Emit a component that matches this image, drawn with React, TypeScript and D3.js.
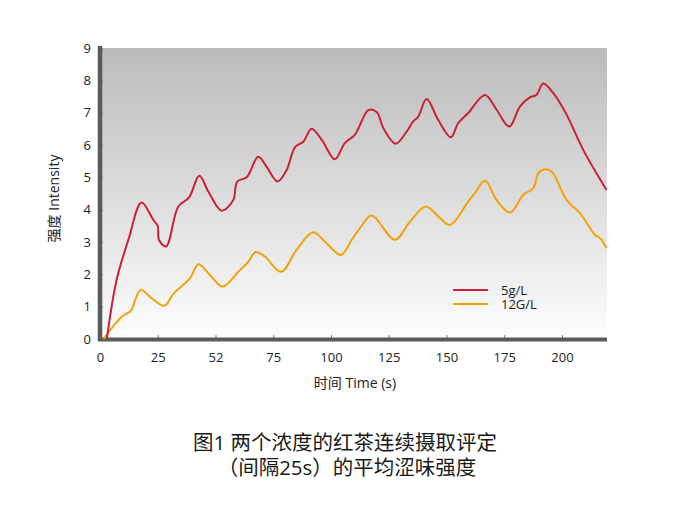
import { useEffect, useRef } from 'react'
import * as d3 from 'd3'

// time (s) / intensity readings for each concentration
const redTime = [3, 7.2, 12.3, 18, 23.1, 25, 25.5, 28.6, 33.9, 38.5, 43, 46.9, 52.7, 57.7, 59.4, 63.5, 68.5, 72.1, 76.9, 80.8, 84.4, 88, 91.6, 96, 101.7, 106, 110.4, 116.2, 119.8, 122.7, 128, 132.8, 135.6, 137.8, 141.4, 146.4, 151.9, 155.1, 159.4, 166.7, 171.7, 177.2, 181.8, 186.1, 189, 191.9, 196.2, 202, 209.2, 219.3]
const redValue = [0.02, 1.83, 3.07, 4.22, 3.68, 3.5, 3.07, 2.86, 4.1, 4.37, 5.05, 4.56, 3.97, 4.3, 4.87, 5.0, 5.64, 5.33, 4.87, 5.23, 5.93, 6.1, 6.5, 6.16, 5.56, 6.06, 6.32, 7.08, 7.02, 6.52, 6.04, 6.42, 6.73, 6.88, 7.42, 6.78, 6.24, 6.68, 6.99, 7.55, 7.09, 6.57, 7.19, 7.47, 7.55, 7.9, 7.61, 6.94, 5.85, 4.61]

const orangeTime = [1.5, 9.4, 13.4, 15.2, 17.6, 22.4, 27.8, 31.7, 39, 42.6, 47.6, 53.1, 59.9, 64.2, 67.4, 71.4, 78.4, 85.1, 92.3, 97.4, 104.3, 109, 112.6, 117.6, 127.7, 134.2, 141, 146.5, 151.5, 159.4, 162.3, 166.7, 171.7, 177.5, 183.3, 187.6, 189.8, 192.6, 195.5, 202, 207.8, 214.3, 216.5, 219.3]
const orangeValue = [0.0, 0.69, 0.88, 1.2, 1.52, 1.26, 1.03, 1.39, 1.88, 2.31, 1.98, 1.62, 2.08, 2.39, 2.69, 2.55, 2.08, 2.76, 3.3, 3.01, 2.6, 3.07, 3.43, 3.82, 3.07, 3.63, 4.1, 3.79, 3.53, 4.25, 4.51, 4.9, 4.3, 3.91, 4.46, 4.67, 5.13, 5.25, 5.18, 4.3, 3.89, 3.22, 3.12, 2.81]

const xTickValues = [0, 25, 50, 75, 100, 125, 150, 175, 200]
const xTickLabels = ['0', '25', '52', '75', '100', '125', '150', '175', '200']
const yTickValues = [0, 1, 2, 3, 4, 5, 6, 7, 8, 9]

const seriesNames = ['5g/L', '12G/L']
const seriesColors = ['#cc1f3a', '#f5a10a']

const FONT = '"Open Sans", "Noto Sans CJK SC", sans-serif'

export default function App() {
  const svgRef = useRef<SVGSVGElement>(null)

  useEffect(() => {
    if (!svgRef.current) return
    const svg = d3.select(svgRef.current)
    svg.selectAll('*').remove()

    const left = 100
    const right = 607
    const top = 48
    const bottom = 339

    const x = d3.scaleLinear().domain([0, 219.5]).range([left, right])
    const y = d3.scaleLinear().domain([0, 9]).range([bottom, top])

    const defs = svg.append('defs')
    const grad = defs
      .append('linearGradient')
      .attr('id', 'bg-grad')
      .attr('x1', '0%')
      .attr('y1', '0%')
      .attr('x2', '0%')
      .attr('y2', '100%')
    grad.append('stop').attr('offset', '0%').attr('stop-color', '#bbbbbb')
    grad.append('stop').attr('offset', '100%').attr('stop-color', '#fdfdfd')

    svg
      .append('rect')
      .attr('x', left)
      .attr('y', top)
      .attr('width', right - left)
      .attr('height', bottom - top)
      .attr('fill', 'url(#bg-grad)')

    // ticks (inward, small)
    const xAxis = svg
      .append('g')
      .attr('transform', `translate(0,${bottom})`)
      .call(
        d3
          .axisBottom(x)
          .tickValues(xTickValues)
          .tickSizeInner(-4)
          .tickSizeOuter(0)
          .tickPadding(14)
          .tickFormat((_d, i) => xTickLabels[i])
      )
    xAxis.select('.domain').remove()
    xAxis.selectAll('.tick line').attr('stroke', '#777')
    xAxis
      .selectAll('text')
      .attr('font-size', '13px')
      .attr('font-family', FONT)
      .attr('fill', '#222')

    const yAxis = svg
      .append('g')
      .attr('transform', `translate(${left},0)`)
      .call(
        d3
          .axisLeft(y)
          .tickValues(yTickValues)
          .tickSizeInner(-3)
          .tickSizeOuter(0)
          .tickPadding(9)
          .tickFormat(d3.format('d'))
      )
    yAxis.select('.domain').remove()
    yAxis.selectAll('.tick line').attr('stroke', '#888')
    yAxis
      .selectAll('text')
      .attr('font-size', '13px')
      .attr('font-family', FONT)
      .attr('fill', '#222')

    // thick axis lines
    svg
      .append('line')
      .attr('x1', left)
      .attr('x2', left)
      .attr('y1', top - 2)
      .attr('y2', bottom + 2)
      .attr('stroke', '#5a5a5a')
      .attr('stroke-width', 4.5)
    svg
      .append('line')
      .attr('x1', left - 2)
      .attr('x2', right)
      .attr('y1', bottom + 0.5)
      .attr('y2', bottom + 0.5)
      .attr('stroke', '#5a5a5a')
      .attr('stroke-width', 4)

    const line = d3
      .line<[number, number]>()
      .x(d => x(d[0]))
      .y(d => y(d[1]))
      .curve(d3.curveCatmullRom.alpha(0.5))

    const redPts: [number, number][] = redTime.map((t, i) => [t, redValue[i]])
    const orangePts: [number, number][] = orangeTime.map((t, i) => [t, orangeValue[i]])

    svg
      .append('path')
      .attr('d', line(orangePts))
      .attr('fill', 'none')
      .attr('stroke', seriesColors[1])
      .attr('stroke-width', 2)
    svg
      .append('path')
      .attr('d', line(redPts))
      .attr('fill', 'none')
      .attr('stroke', seriesColors[0])
      .attr('stroke-width', 2)

    // legend
    const legend = svg.append('g').attr('transform', 'translate(453,290)')
    seriesNames.forEach((name, i) => {
      legend
        .append('line')
        .attr('x1', 0)
        .attr('x2', 35)
        .attr('y1', i * 14)
        .attr('y2', i * 14)
        .attr('stroke', seriesColors[i])
        .attr('stroke-width', 2)
      legend
        .append('text')
        .attr('x', 48)
        .attr('y', i * 14)
        .attr('dy', '0.35em')
        .attr('font-size', '13px')
        .attr('font-family', FONT)
        .attr('fill', '#222')
        .text(name)
    })

    // axis titles
    svg
      .append('text')
      .attr('transform', `translate(59,${(top + bottom) / 2 + 5}) rotate(-90)`)
      .attr('text-anchor', 'middle')
      .attr('font-size', '14px')
      .attr('font-family', FONT)
      .attr('fill', '#222')
      .text('强度 Intensity')

    svg
      .append('text')
      .attr('x', 355)
      .attr('y', 388)
      .attr('text-anchor', 'middle')
      .attr('font-size', '14px')
      .attr('font-family', FONT)
      .attr('fill', '#222')
      .text('时间 Time (s)')

    // caption
    svg
      .append('text')
      .attr('x', 345)
      .attr('y', 450)
      .attr('text-anchor', 'middle')
      .attr('font-size', '20.5px')
      .attr('font-family', FONT)
      .attr('fill', '#1a1a1a')
      .text('图1 两个浓度的红茶连续摄取评定')
    svg
      .append('text')
      .attr('x', 347)
      .attr('y', 475)
      .attr('text-anchor', 'middle')
      .attr('font-size', '20.5px')
      .attr('font-family', FONT)
      .attr('fill', '#1a1a1a')
      .text('（间隔25s）的平均涩味强度')
  }, [])

  return (
    <svg
      ref={svgRef}
      width={690}
      height={517}
      style={{ position: 'absolute', left: 0, top: 0, background: '#fff' }}
    />
  )
}
